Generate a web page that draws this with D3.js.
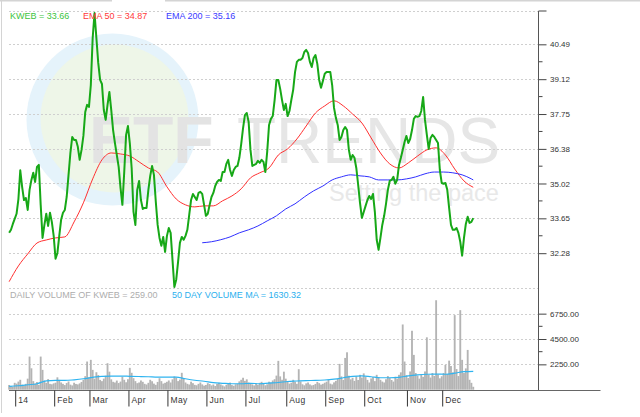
<!DOCTYPE html>
<html><head><meta charset="utf-8">
<script src="https://cdn.jsdelivr.net/npm/d3@7"></script>
<style>
body{margin:0;background:#fff}
svg{display:block;font-family:"Liberation Sans",Arial,sans-serif}
</style>
</head><body>
<svg id="chart" width="640" height="417"></svg>
<script>
// ---------- DATA ----------
// x positions are trading-day numbers; day 0 = 2 Jan 2014, first point = 27 Dec 2013
const firstDay = -3;
const monthLabels = ["14","Feb","Mar","Apr","May","Jun","Jul","Aug","Sep","Oct","Nov","Dec"];
const monthStartDay = [0,21,40,61,82,103,124,146,167,188,211,230];

const closePrices = [
  33.08,33.20,33.43,
  33.63,33.83,34.41,35.54,34.89,34.37,34.45,33.98,34.77,35.16,35.44,35.08,35.67,35.75,34.18,32.88,33.39,33.83,33.35,33.87,33.51,
  32.96,32.06,32.29,32.96,33.59,33.87,33.98,34.49,35.36,36.22,36.85,36.73,36.73,36.46,35.95,36.34,36.89,37.83,38.11,
  38.03,38.89,40.74,41.72,40.74,39.76,39.09,38.93,37.91,37.52,38.11,38.62,37.91,37.12,36.61,36.14,35.67,34.85,34.18,35.47,36.93,
  37.28,36.61,35.63,33.90,33.39,34.77,35.12,34.37,34.02,34.06,34.06,34.77,35.32,35.71,35.36,34.30,33.39,32.88,32.57,32.92,32.33,
  32.96,33.27,33.08,32.02,30.95,31.24,31.94,32.69,32.92,32.81,32.96,33.20,33.79,34.37,34.61,34.49,34.37,34.65,34.69,34.61,34.18,
  33.75,33.83,34.18,34.49,34.65,34.92,35.08,35.16,35.12,35.47,35.47,35.79,35.95,35.55,35.32,35.55,35.67,35.71,36.03,36.57,37.20,
  37.71,37.79,37.44,36.34,35.71,35.75,35.79,35.91,35.83,35.95,35.87,35.47,36.26,37.32,37.56,37.67,38.30,39.09,39.09,38.74,38.30,37.91,
  38.15,37.67,37.87,38.30,38.70,39.40,39.80,39.88,39.88,39.95,40.19,40.27,40.15,39.80,39.60,39.95,40.07,39.72,39.09,38.78,39.05,
  39.33,39.40,39.40,39.40,38.89,37.99,37.60,37.32,36.73,36.85,37.12,37.24,37.12,36.34,35.95,36.14,36.03,35.63,34.97,34.26,33.67,
  33.90,34.14,34.37,34.53,34.41,34.61,33.90,32.81,32.41,32.88,33.39,33.75,34.22,34.77,35.12,35.16,35.28,35.01,35.16,35.75,36.03,36.34,36.65,
  36.89,36.61,36.77,37.12,37.56,37.67,37.64,37.67,37.87,38.42,37.52,36.93,36.38,36.81,36.93,36.85,36.73,36.61,35.55,
  35.04,35.01,35.04,34.77,34.06,33.39,33.20,33.20,33.27,33.08,32.73,32.18,32.88,33.43,33.71,33.47,33.51,33.66
];

const volumes = [
  420,310,260,
  610,540,720,880,450,390,520,980,2940,1900,760,540,680,430,2940,1760,820,610,940,520,480,
  560,620,1100,870,640,520,410,590,730,450,380,620,510,470,560,690,880,1200,2500,
  1100,2650,1760,980,1550,1300,870,760,980,1240,2350,1600,920,700,640,810,590,720,1150,880,660,
  930,1940,1500,1020,760,580,640,820,700,520,460,610,880,750,540,430,690,1020,760,540,610,
  700,820,640,920,1180,1060,760,900,1500,980,640,520,460,710,580,430,390,520,640,470,360,
  420,580,510,380,460,330,520,610,470,380,290,440,560,630,410,350,480,520,740,880,1060,
  780,920,640,520,470,380,560,430,610,700,520,390,480,710,640,820,930,1250,2560,1180,880,1600,
  980,760,540,620,880,700,520,1820,730,480,390,560,640,470,380,420,510,690,580,450,520,
  620,710,880,540,470,650,780,960,2290,1180,870,2820,3320,1240,920,1060,780,1190,860,1320,1080,
  1450,1120,870,640,1000,1120,760,1320,1080,880,720,640,930,1210,1040,860,720,1150,980,1320,1540,5790,2500,
  1280,1040,1620,5230,3090,1480,1250,980,1360,1140,1620,4650,1320,1080,1480,1220,7940,1350,1010,
  1190,1480,2200,1380,2580,2100,1540,6620,1830,1210,7060,2650,1480,1890,3530,880,610,259
];

// EMA 50, read every 5th trading day from day -3
const ema50Start = -3;
const ema50 = [31.16,31.78,32.25,32.68,32.80,32.88,32.92,33.51,34.26,35.20,35.95,36.22,36.18,36.10,35.87,35.63,35.47,
  34.89,34.41,34.18,34.10,34.14,34.14,34.34,34.53,34.81,35.24,35.44,35.63,36.14,36.38,36.77,37.28,37.79,38.07,38.27,
  38.07,37.75,37.40,36.81,36.22,35.79,35.63,35.83,36.10,36.34,36.42,36.14,35.59,35.12,34.87];
// EMA 200, read every 5th trading day from day 101, plus last day
const ema200Start = 101;
const ema200 = [32.69,32.73,32.81,32.92,33.08,33.20,33.35,33.55,33.75,34.02,34.22,34.49,34.73,34.92,35.16,35.28,35.36,
  35.32,35.28,35.16,35.16,35.16,35.20,35.28,35.40,35.47,35.47,35.44,35.36,35.20];
const ema200Last = 35.16;
// 50 day volume MA, every 5th trading day from day -3
const volMA = [290,350,440,530,790,820,820,880,970,1100,1190,1210,1210,1190,1170,1150,1120,1120,1120,970,840,750,620,
  570,530,530,570,530,590,640,730,770,810,820,860,940,1060,1190,1235,1150,1060,1060,1100,1235,1320,1370,1385,1370,1470,1600,1630.32];

const priceTicks = ["32.28","33.65","35.02","36.38","37.75","39.12","40.49"];
const volumeTicks = ["2250.00","4500.00","6750.00"];
const legendTop = [
  {text:"KWEB = 33.66", color:"#3cc43c"},
  {text:"EMA 50 = 34.87", color:"#ff3a3a"},
  {text:"EMA 200 = 35.16", color:"#3a3aff"}
];
const legendVol = [
  {text:"DAILY VOLUME OF KWEB = 259.00", color:"#adadad"},
  {text:"50 DAY VOLUME MA = 1630.32", color:"#2bb0ee"}
];

// ---------- CHART ----------
const svg = d3.select("#chart");
const x = d3.scaleLinear().domain([0, 230]).range([14.7, 441.7]);
const yP = d3.scaleLinear().domain([30.9, 41.8]).range([288.3, 11]);
const yV = d3.scaleLinear().domain([0, 9000]).range([389.7, 288.3]);
const axisX = 538.5, leftX = 9;

// frame
svg.append("line").attr("x1",0).attr("x2",640).attr("y1",0.5).attr("y2",0.5).attr("stroke","#d4d4d4").attr("stroke-width",2);
svg.append("rect").attr("x",112).attr("y",0).attr("width",53).attr("height",2).attr("fill","#fff");
svg.append("line").attr("x1",1.5).attr("x2",1.5).attr("y1",0).attr("y2",413).attr("stroke","#d4d4d4").attr("stroke-width",1);

// watermark
const wm = svg.append("g");
wm.append("circle").attr("cx",112.5).attr("cy",119.5).attr("r",86).attr("fill","#e5f3fb");
wm.append("circle").attr("cx",114.5).attr("cy",118.5).attr("r",74).attr("fill","#eef6e8");
wm.append("text").attr("x",89).attr("y",163).attr("font-size",66).attr("font-weight","bold").attr("fill","#e3e3e3").text("ETF");
wm.append("text").attr("x",237).attr("y",163).attr("font-size",64).attr("fill","#e6e6e6").text("TRENDS");
wm.append("text").attr("x",329).attr("y",201).attr("font-size",23.5).attr("fill","#e8e8e8").text("Setting the pace");

// grid lines
const gridG = svg.append("g").attr("stroke","#cfcfcf").attr("stroke-dasharray","2,2").attr("stroke-width",1);
const priceGrid = priceTicks.map(Number).concat([yP.domain()[1]]);
gridG.selectAll(".gp").data(priceGrid).join("line")
  .attr("x1",leftX).attr("x2",axisX).attr("y1",d=>Math.round(yP(d))+0.5).attr("y2",d=>Math.round(yP(d))+0.5);
const volGrid = volumeTicks.map(Number).concat([yV.domain()[1]]);
gridG.selectAll(".gv").data(volGrid).join("line")
  .attr("x1",leftX).attr("x2",axisX).attr("y1",d=>Math.round(yV(d))+0.5).attr("y2",d=>Math.round(yV(d))+0.5);

// volume bars
const dayOf = i => firstDay + i;
const bw = x(1) - x(0);
svg.append("g").selectAll("rect").data(volumes).join("rect")
  .attr("x",(d,i)=>x(dayOf(i)) - bw/2)
  .attr("width",bw)
  .attr("y",d=>yV(d))
  .attr("height",d=>yV(0)-yV(d))
  .attr("fill","#b4b4b4");

// volume MA
svg.append("path").datum(volMA)
  .attr("fill","none").attr("stroke","#2fb4f0").attr("stroke-width",1.2)
  .attr("d", d3.line().x((d,i)=>x(ema50Start + 5*i)).y(d=>yV(d)).curve(d3.curveMonotoneX));

// EMA lines
svg.append("path").datum(ema50)
  .attr("fill","none").attr("stroke","#ff3030").attr("stroke-width",1)
  .attr("d", d3.line().x((d,i)=>x(ema50Start + 5*i)).y(d=>yP(d)).curve(d3.curveMonotoneX));
const ema200Pts = ema200.map((v,i)=>[ema200Start + 5*i, v]).concat([[firstDay + closePrices.length - 1, ema200Last]]);
svg.append("path").datum(ema200Pts)
  .attr("fill","none").attr("stroke","#3030ff").attr("stroke-width",1)
  .attr("d", d3.line().x(d=>x(d[0])).y(d=>yP(d[1])).curve(d3.curveMonotoneX));

// price line
svg.append("path").datum(closePrices)
  .attr("fill","none").attr("stroke","#17a817").attr("stroke-width",2).attr("stroke-linejoin","round")
  .attr("d", d3.line().x((d,i)=>x(dayOf(i))).y(d=>yP(d)));

// right axes
const axG = svg.append("g").attr("transform",`translate(${axisX},0)`);
const pAxis = axG.append("g").call(d3.axisRight(yP).tickValues(priceTicks.map(Number)).tickFormat((d,i)=>priceTicks[i]).tickSize(8).tickSizeOuter(0));
const vAxis = axG.append("g").call(d3.axisRight(yV).tickValues(volumeTicks.map(Number)).tickFormat((d,i)=>volumeTicks[i]).tickSize(8).tickSizeOuter(0));
[pAxis, vAxis].forEach(g=>{
  g.select(".domain").remove();
  g.selectAll("line").attr("stroke","#444");
  g.selectAll("text").attr("x",11.5).attr("font-size",8).attr("font-family","Liberation Sans, Arial, sans-serif").attr("fill","#333");
});
// minor ticks
const pMinor = d3.pairs(priceTicks.map(Number)).map(p=>(p[0]+p[1])/2);
axG.selectAll(".mp").data(pMinor).join("line").attr("x1",0).attr("x2",4).attr("y1",d=>yP(d)).attr("y2",d=>yP(d)).attr("stroke","#444");
const vMinor = d3.pairs(volumeTicks.map(Number)).map(p=>(p[0]+p[1])/2);
axG.selectAll(".mv").data(vMinor).join("line").attr("x1",0).attr("x2",4).attr("y1",d=>yV(d)).attr("y2",d=>yV(d)).attr("stroke","#444");
axG.append("line").attr("x1",0).attr("x2",8).attr("y1",yP.range()[1]).attr("y2",yP.range()[1]).attr("stroke","#444");
axG.append("line").attr("x1",0).attr("x2",0).attr("y1",yP.range()[1]).attr("y2",yV(0)+0.8).attr("stroke","#555").attr("stroke-width",1);

// bottom axis
svg.append("line").attr("x1",leftX).attr("x2",600.5).attr("y1",390.5).attr("y2",390.5).attr("stroke","#666");
const xAxisG = svg.append("g").attr("transform","translate(0,390.5)")
  .call(d3.axisBottom(x).tickValues(monthStartDay).tickFormat((d,i)=>monthLabels[i]).tickSize(16).tickSizeOuter(0));
xAxisG.select(".domain").remove();
xAxisG.selectAll("line").attr("stroke","#333").attr("transform","translate(0.5,0)");
xAxisG.selectAll("text").attr("x",3).attr("y",12).attr("dy",0).attr("text-anchor","start")
  .attr("font-size",8.5).attr("font-family","Liberation Sans, Arial, sans-serif").attr("fill","#333").attr("letter-spacing",0.4);

// legends
let lx = 10;
const lgTop = svg.append("g").attr("font-size",9);
const topX = [10, 83, 166];
lgTop.selectAll("text").data(legendTop).join("text")
  .attr("x",(d,i)=>topX[i]).attr("y",19.3).attr("fill",d=>d.color).text(d=>d.text);
const volX = [10, 172];
svg.append("g").attr("font-size",9).selectAll("text").data(legendVol).join("text")
  .attr("x",(d,i)=>volX[i]).attr("y",298).attr("fill",d=>d.color).text(d=>d.text);
</script>
</body></html>
